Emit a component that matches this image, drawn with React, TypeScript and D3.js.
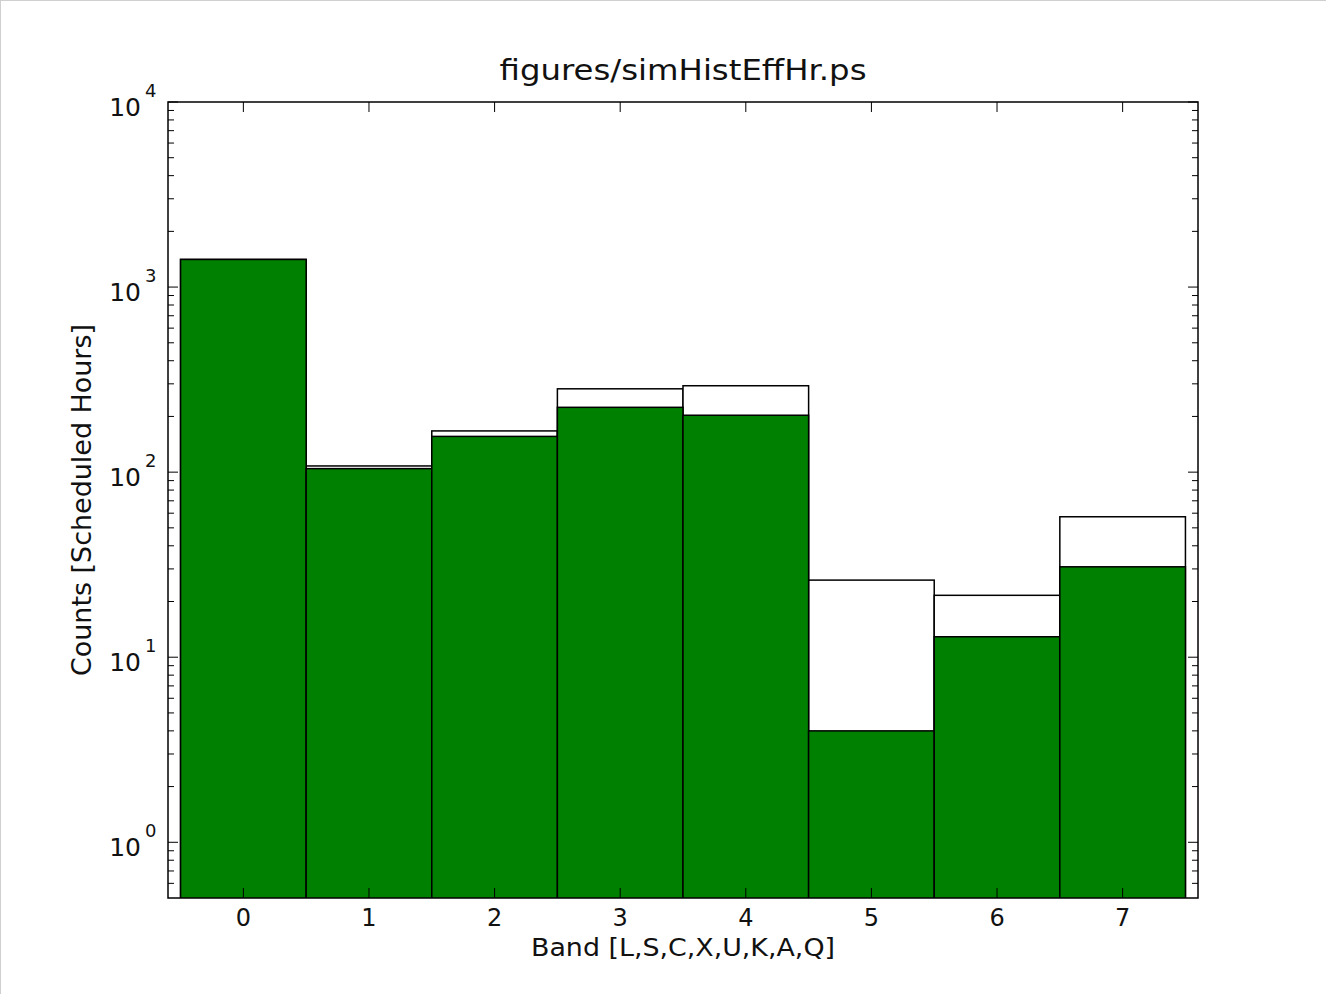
import React, { useEffect, useRef } from "react";
import * as d3 from "d3";

// histogram bins (band index) and the two series drawn over each other
const bands = [0, 1, 2, 3, 4, 5, 6, 7];
const totalHours = [1410, 108, 167, 282, 293, 26.1, 21.6, 57.4];
const effHours = [1410, 104.5, 156, 224, 203, 4.0, 12.9, 30.8];
const xTicks = [0, 1, 2, 3, 4, 5, 6, 7];
const yDecades = [0, 1, 2, 3, 4];

const title = "figures/simHistEffHr.ps";
const xLabel = "Band [L,S,C,X,U,K,A,Q]";
const yLabel = "Counts [Scheduled Hours]";

const App = () => {
  const svgRef = useRef(null);
  const width = 1326;
  const height = 994;
  const margin = { top: 102, right: 128, bottom: 96, left: 168 };

  useEffect(() => {
    const svg = d3.select(svgRef.current);
    svg.selectAll("*").remove();

    const iw = width - margin.left - margin.right;
    const ih = height - margin.top - margin.bottom;
    const font = "'DejaVu Sans', sans-serif";

    const x = d3.scaleLinear().domain([-0.6, 7.6]).range([0, iw]);
    const y = d3.scaleLog().domain([0.5, 1e4]).range([ih, 0]);

    // page frame
    svg.append("line").attr("x1", 0.5).attr("x2", 0.5).attr("y1", 0).attr("y2", height).attr("stroke", "#cfcfcf");
    svg.append("line").attr("x1", 0).attr("x2", width).attr("y1", 0.5).attr("y2", 0.5).attr("stroke", "#cfcfcf");

    const g = svg.append("g").attr("transform", `translate(${margin.left},${margin.top})`);

    g.append("defs").append("clipPath").attr("id", "plotclip")
      .append("rect").attr("width", iw).attr("height", ih);

    const bars = g.append("g").attr("clip-path", "url(#plotclip)");

    // total hours (white), then effective hours (green) on top
    bars.selectAll(".tot")
      .data(bands)
      .enter()
      .append("rect")
      .attr("class", "tot")
      .attr("x", (d) => x(d - 0.5))
      .attr("width", x(1) - x(0))
      .attr("y", (d, i) => y(totalHours[i]))
      .attr("height", (d, i) => ih + 5 - y(totalHours[i]))
      .attr("fill", "white")
      .attr("stroke", "black")
      .attr("stroke-width", 1.5);

    bars.selectAll(".eff")
      .data(bands)
      .enter()
      .append("rect")
      .attr("class", "eff")
      .attr("x", (d) => x(d - 0.5))
      .attr("width", x(1) - x(0))
      .attr("y", (d, i) => y(effHours[i]))
      .attr("height", (d, i) => ih + 5 - y(effHours[i]))
      .attr("fill", "#008000")
      .attr("stroke", "black")
      .attr("stroke-width", 1.5);

    // frame
    g.append("rect")
      .attr("width", iw)
      .attr("height", ih)
      .attr("fill", "none")
      .attr("stroke", "black")
      .attr("stroke-width", 1.5);

    const major = 10;
    const minor = 6;

    // x ticks (inward, bottom and top)
    xTicks.forEach((t) => {
      g.append("line").attr("x1", x(t)).attr("x2", x(t)).attr("y1", ih).attr("y2", ih - major).attr("stroke", "black");
      g.append("line").attr("x1", x(t)).attr("x2", x(t)).attr("y1", 0).attr("y2", major).attr("stroke", "black");
      g.append("text")
        .attr("x", x(t))
        .attr("y", ih + 28)
        .attr("text-anchor", "middle")
        .style("font-family", font)
        .style("font-size", "24px")
        .attr("fill", "#111")
        .text(t);
    });

    // y major ticks with 10^n labels
    yDecades.forEach((p) => {
      const yy = y(Math.pow(10, p));
      g.append("line").attr("x1", 0).attr("x2", major).attr("y1", yy).attr("y2", yy).attr("stroke", "black");
      g.append("line").attr("x1", iw).attr("x2", iw - major).attr("y1", yy).attr("y2", yy).attr("stroke", "black");
      g.append("text")
        .attr("x", -27)
        .attr("y", yy + 14)
        .attr("text-anchor", "end")
        .style("font-family", font)
        .style("font-size", "25px")
        .attr("fill", "#111")
        .text("10");
      g.append("text")
        .attr("x", -23)
        .attr("y", yy - 5)
        .attr("text-anchor", "start")
        .style("font-family", font)
        .style("font-size", "18px")
        .attr("fill", "#111")
        .text(p);
    });

    // y minor ticks
    const minorVals = [];
    [-1, 0, 1, 2, 3].forEach((p) => {
      for (let k = 2; k <= 9; k++) {
        const v = k * Math.pow(10, p);
        if (v > 0.5 && v < 1e4) minorVals.push(v);
      }
    });
    minorVals.forEach((v) => {
      const yy = y(v);
      g.append("line").attr("x1", 0).attr("x2", minor).attr("y1", yy).attr("y2", yy).attr("stroke", "black");
      g.append("line").attr("x1", iw).attr("x2", iw - minor).attr("y1", yy).attr("y2", yy).attr("stroke", "black");
    });

    // title and axis labels
    g.append("text")
      .attr("x", iw / 2)
      .attr("y", -22)
      .attr("text-anchor", "middle")
      .attr("textLength", 367)
      .attr("lengthAdjust", "spacingAndGlyphs")
      .style("font-family", font)
      .style("font-size", "29px")
      .attr("fill", "#111")
      .text(title);

    g.append("text")
      .attr("x", iw / 2)
      .attr("y", ih + 58)
      .attr("text-anchor", "middle")
      .attr("textLength", 304)
      .attr("lengthAdjust", "spacingAndGlyphs")
      .style("font-family", font)
      .style("font-size", "25px")
      .attr("fill", "#111")
      .text(xLabel);

    g.append("text")
      .attr("transform", `translate(${-77},${ih / 2})rotate(-90)`)
      .attr("text-anchor", "middle")
      .attr("textLength", 352)
      .attr("lengthAdjust", "spacingAndGlyphs")
      .style("font-family", font)
      .style("font-size", "26px")
      .attr("fill", "#111")
      .text(yLabel);
  });

  return (
    <svg
      ref={svgRef}
      width={width}
      height={height}
      style={{ position: "absolute", left: 0, top: 0, background: "white" }}
    ></svg>
  );
};

export default App;
